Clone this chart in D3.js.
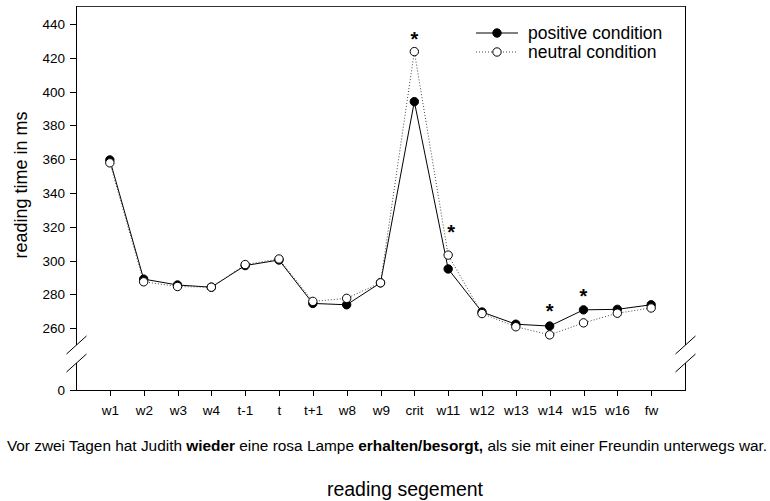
<!DOCTYPE html>
<html>
<head>
<meta charset="utf-8">
<script src="https://cdn.jsdelivr.net/npm/d3@7"></script>
<style>
  html, body { margin: 0; padding: 0; background: #fff; }
  svg { display: block; font-family: "Liberation Sans", Arial, Helvetica, sans-serif; }
</style>
</head>
<body>
<svg id="chart" width="770" height="501"></svg>
<script>
// Reading segments along the sentence
const segments = ["w1","w2","w3","w4","t-1","t","t+1","w8","w9","crit","w11","w12","w13","w14","w15","w16","fw"];
// Mean reading times (ms)
const positiveRT = [359.5, 289.0, 285.5, 284.2, 297.0, 300.3, 274.6, 273.8, 286.8, 394.0, 295.0, 269.5, 262.3, 261.2, 270.8, 271.1, 273.8];
const neutralRT  = [357.8, 287.4, 284.6, 284.2, 297.6, 300.9, 275.8, 277.6, 286.8, 423.6, 303.2, 268.6, 260.8, 256.0, 263.1, 268.8, 271.9];
// Segments with a significant difference, and the height (ms) of the asterisk
const sigSegments = ["crit", "w11", "w14", "w15"];
const sigHeights  = [433.5, 319.0, 272.5, 281.5];
// Axis ticks
const upperTicks = [260, 280, 300, 320, 340, 360, 380, 400, 420, 440];
const lowerTicks = [0];

const seriesNames = ["positive condition", "neutral condition"];

const svg = d3.select("#chart");
const plotL = 76, plotR = 685, plotT = 6, plotB = 390;
const breakUpper = 345, breakLower = 363;

const x = d3.scalePoint().domain(segments).range([plotL, plotR]).padding(1);
const yUp = d3.scaleLinear().domain([250, 450]).range([breakUpper, plotT + 1]);
const yLow = d3.scaleLinear().domain([0, 16]).range([plotB, breakLower]);

const ink = "#000";
const axisG = svg.append("g").attr("stroke", ink).attr("stroke-width", 1).attr("fill", "none");

// Frame: top edge, left and right edges interrupted by the axis break, bottom axis
axisG.append("line").attr("x1", plotL).attr("x2", plotR).attr("y1", plotT + 0.5).attr("y2", plotT + 0.5).attr("stroke", "#333");
[plotL + 0.5, plotR + 0.5].forEach(ax => {
  axisG.append("line").attr("x1", ax).attr("x2", ax).attr("y1", plotT).attr("y2", breakUpper);
  axisG.append("line").attr("x1", ax).attr("x2", ax).attr("y1", breakLower).attr("y2", plotB);
  // break slashes
  [breakUpper, breakLower].forEach(by => {
    axisG.append("line")
      .attr("x1", ax - 10).attr("y1", by + 9)
      .attr("x2", ax + 10).attr("y2", by - 9);
  });
});
axisG.append("line").attr("x1", plotL).attr("x2", plotR + 1).attr("y1", plotB + 0.5).attr("y2", plotB + 0.5);

// Y axis ticks and labels
function yTicks(scale, ticks) {
  const g = svg.append("g");
  ticks.forEach(t => {
    const yy = Math.round(scale(t)) + 0.5;
    g.append("line").attr("x1", plotL - 6).attr("x2", plotL).attr("y1", yy).attr("y2", yy)
      .attr("stroke", ink);
    g.append("text").attr("x", plotL - 11).attr("y", yy).attr("dy", "0.35em")
      .attr("text-anchor", "end").attr("font-size", 13.5).attr("fill", ink).text(t);
  });
}
yTicks(yUp, upperTicks);
yTicks(yLow, lowerTicks);

// X axis ticks and labels
const xg = svg.append("g");
segments.forEach(s => {
  const xx = Math.round(x(s)) + 0.5;
  xg.append("line").attr("x1", xx).attr("x2", xx).attr("y1", plotB).attr("y2", plotB + 6).attr("stroke", ink);
  xg.append("text").attr("x", xx).attr("y", plotB + 25).attr("text-anchor", "middle")
    .attr("font-size", 13.5).attr("fill", ink).text(s);
});

// Series lines
const line = d3.line().x((d, i) => x(segments[i])).y(d => yUp(d));
svg.append("path").datum(positiveRT).attr("d", line)
  .attr("fill", "none").attr("stroke", ink).attr("stroke-width", 1);
svg.append("path").datum(neutralRT).attr("d", line)
  .attr("fill", "none").attr("stroke", "#444").attr("stroke-width", 1).attr("stroke-dasharray", "1,2");

// Markers: filled for positive, open for neutral (drawn on top)
svg.append("g").selectAll("circle").data(positiveRT).join("circle")
  .attr("cx", (d, i) => x(segments[i])).attr("cy", d => yUp(d)).attr("r", 4.2)
  .attr("fill", ink).attr("stroke", ink).attr("stroke-width", 1);
svg.append("g").selectAll("circle").data(neutralRT).join("circle")
  .attr("cx", (d, i) => x(segments[i])).attr("cy", d => yUp(d)).attr("r", 4.2)
  .attr("fill", "#fff").attr("stroke", ink).attr("stroke-width", 1);

// Significance asterisks
svg.append("g").selectAll("text").data(sigSegments).join("text")
  .attr("x", d => x(d) + (d === "w11" ? 3 : 0))
  .attr("y", (d, i) => yUp(sigHeights[i]) + 11)
  .attr("text-anchor", "middle").attr("font-size", 20).attr("font-weight", "bold")
  .attr("fill", ink).text("*");

// Legend
const legend = svg.append("g");
seriesNames.forEach((name, i) => {
  const ly = 33 + i * 19;
  const ln = legend.append("line").attr("x1", 476).attr("x2", 518).attr("y1", ly).attr("y2", ly)
    .attr("stroke", i === 0 ? ink : "#444").attr("stroke-width", 1);
  if (i === 1) ln.attr("stroke-dasharray", "1,2");
  legend.append("circle").attr("cx", 497).attr("cy", ly).attr("r", 4.2)
    .attr("fill", i === 0 ? ink : "#fff").attr("stroke", ink);
  legend.append("text").attr("x", 528).attr("y", ly).attr("dy", "0.35em")
    .attr("font-size", 17.5).attr("fill", ink).text(name);
});

// Y axis title
svg.append("text").attr("transform", "translate(27,185) rotate(-90)")
  .attr("text-anchor", "middle").attr("font-size", 18).attr("fill", ink)
  .text("reading time in ms");

// Example sentence beneath the axis
const sentence = svg.append("text").attr("x", 387).attr("y", 451)
  .attr("text-anchor", "middle").attr("font-size", 15.4).attr("fill", ink);
[["Vor zwei Tagen hat Judith ", false], ["wieder", true], [" eine rosa Lampe ", false],
 ["erhalten/besorgt,", true], [" als sie mit einer Freundin unterwegs war.", false]]
  .forEach(([t, b]) => sentence.append("tspan").attr("font-weight", b ? "bold" : "normal").text(t));

// X axis title
svg.append("text").attr("x", 405).attr("y", 496).attr("text-anchor", "middle")
  .attr("font-size", 19.5).attr("fill", ink).text("reading segement");
</script>
</body>
</html>
